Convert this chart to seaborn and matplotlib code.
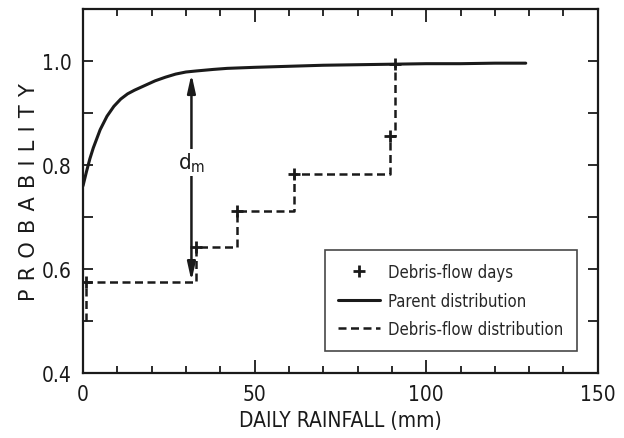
import matplotlib
matplotlib.use("Agg")
import matplotlib.pyplot as plt
from matplotlib.ticker import MultipleLocator
from matplotlib.lines import Line2D
import seaborn as sns
import pandas as pd

# Curva da distribuicao "parent"
parent_x = [0, 1, 2, 3, 5, 7, 9, 11, 13, 15, 18, 21, 24, 27, 30, 33, 38, 42,
            50, 60, 70, 80, 90, 100, 110, 120, 129]
parent_y = [0.76, 0.787, 0.812, 0.833, 0.868, 0.894, 0.913, 0.927, 0.937, 0.944,
            0.953, 0.962, 0.969, 0.975, 0.979, 0.981, 0.984, 0.986,
            0.988, 0.990, 0.992, 0.993, 0.994, 0.995, 0.995, 0.996, 0.996]

# Dias com debris-flow
days_x = [1, 33, 45, 61.5, 89.5, 91]
days_y = [0.575, 0.642, 0.712, 0.783, 0.856, 0.995]
step_start = 0.5

# seta d_m
dm_x = 31.6
dm_bottom = 0.577
dm_top = 0.975

sns.set_theme(style="ticks")
plt.rcParams["font.family"] = ["DejaVu Sans"]
plt.rcParams["font.stretch"] = "condensed"
plt.rcParams["mathtext.fontset"] = "custom"
plt.rcParams["mathtext.rm"] = "DejaVu Sans:stretch=condensed"

ink = "#1a1a1a"
fig = plt.figure(figsize=(6.24, 4.39), dpi=100)
ax = fig.add_axes([0.133, 0.148, 0.825, 0.829])

parent = pd.DataFrame({"x": parent_x, "y": parent_y})
step = pd.DataFrame({"x": [days_x[0]] + days_x, "y": [step_start] + days_y})
days = pd.DataFrame({"x": days_x, "y": days_y})

sns.lineplot(data=parent, x="x", y="y", ax=ax, color=ink, lw=2.2,
             estimator=None, sort=False)
sns.lineplot(data=step, x="x", y="y", ax=ax, color=ink, lw=1.8,
             drawstyle="steps-post", linestyle=(0, (3.2, 1.8)),
             estimator=None, sort=False)
sns.scatterplot(data=days, x="x", y="y", ax=ax, marker="+", s=70,
                color=ink, linewidth=2, zorder=5)

ax.annotate("", xy=(dm_x, dm_top), xytext=(dm_x, dm_bottom),
            arrowprops=dict(arrowstyle="<|-|>,head_length=0.9,head_width=0.2",
                            color=ink, lw=1.8, shrinkA=0, shrinkB=0))
ax.text(dm_x, 0.805, "d$_\\mathrm{m}$", ha="center", va="center", fontsize=16,
        color=ink, bbox=dict(facecolor="white", edgecolor="none", pad=1.5))

ax.set_xlim(0, 150)
ax.set_ylim(0.4, 1.1)
ax.xaxis.set_major_locator(MultipleLocator(50))
ax.xaxis.set_minor_locator(MultipleLocator(10))
ax.yaxis.set_major_locator(MultipleLocator(0.2))
ax.yaxis.set_minor_locator(MultipleLocator(0.1))
ax.set_yticks([0.4, 0.6, 0.8, 1.0])
ax.set_yticklabels(["0.4", "0.6", "0.8", "1.0"])

ax.tick_params(which="both", direction="in", top=True, right=True,
               color=ink, width=1.3, labelcolor=ink)
ax.tick_params(axis="x", which="major", length=9.5, labelsize=15, pad=8)
ax.tick_params(axis="x", which="minor", length=5)
ax.tick_params(axis="y", which="both", length=7.5, labelsize=15, pad=8)
for s in ax.spines.values():
    s.set_linewidth(1.6)
    s.set_color(ink)

ax.set_xlabel("DAILY RAINFALL (mm)", fontsize=15, color=ink, labelpad=4)
# rotulo com espacamento entre letras, como no original
ax.set_ylabel("\u2009\u2009".join("PROBABILITY"), fontsize=15, color=ink,
              labelpad=2, fontstretch="normal")

handles = [
    Line2D([], [], marker="+", linestyle="none", color=ink, markersize=8,
           markeredgewidth=2),
    Line2D([], [], color=ink, lw=2.2),
    Line2D([], [], color=ink, lw=1.8, linestyle=(0, (3.2, 1.8))),
]
labels = ["Debris-flow days", "Parent distribution", "Debris-flow distribution"]
leg = ax.legend(handles, labels, loc="lower right", bbox_to_anchor=(0.959, 0.06),
                borderaxespad=0, fontsize=12, frameon=True, fancybox=False,
                handlelength=2.5, borderpad=0.8, labelspacing=0.62,
                handletextpad=0.5)
leg.get_frame().set_edgecolor(ink)
leg.get_frame().set_linewidth(1.2)

fig.savefig("out.png", dpi=100)
